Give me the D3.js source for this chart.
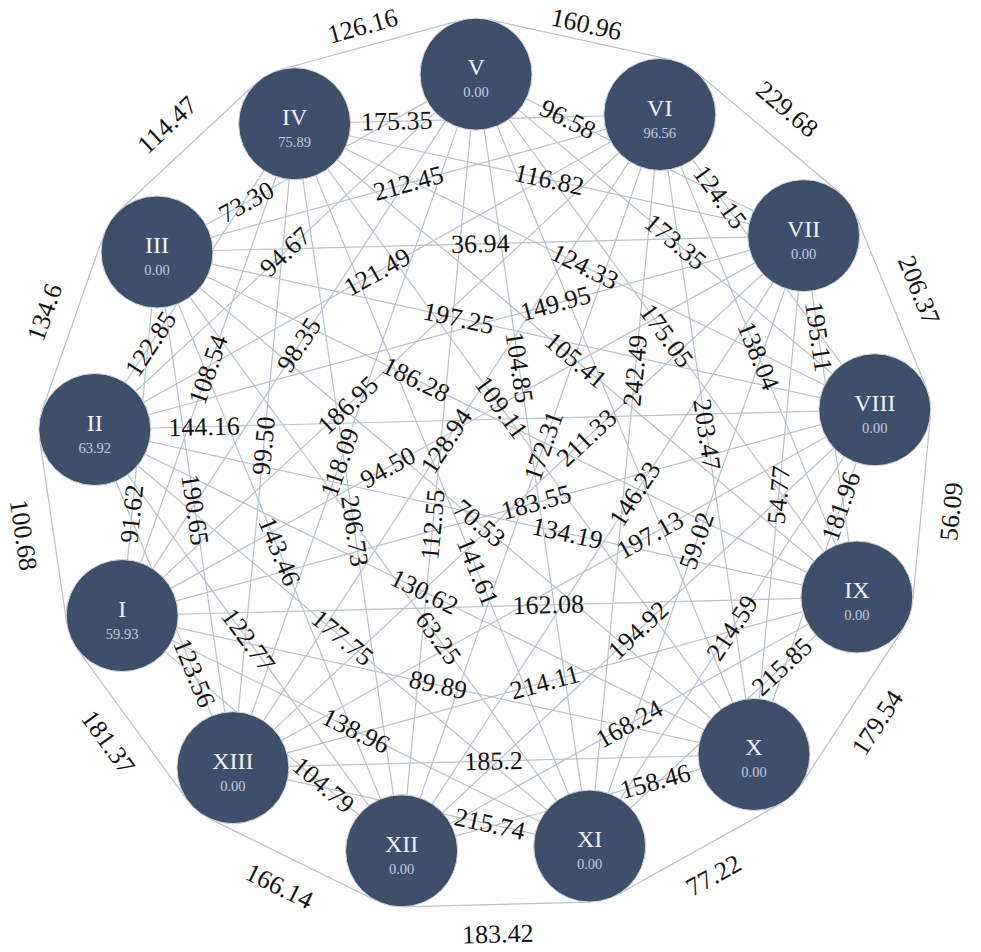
<!DOCTYPE html>
<html>
<head>
<meta charset="utf-8">
<script src="https://cdn.jsdelivr.net/npm/d3@7"></script>
<style>
html, body { margin: 0; padding: 0; background: #ffffff; }
svg { display: block; }
</style>
</head>
<body>
<svg id="chart" width="981" height="952"></svg>
<script>
// ---------------- DATA ----------------
const nodeNames  = ["I","II","III","IV","V","VI","VII","VIII","IX","X","XI","XII","XIII"];
const nodeValues = [59.93, 63.92, 0, 75.89, 0, 96.56, 0, 0, 0, 0, 0, 0, 0];

// links between neighbours on the ring
const span1Links = [
  ["IV","V","126.16"], ["V","VI","160.96"], ["VI","VII","229.68"], ["VII","VIII","206.37"],
  ["VIII","IX","56.09"], ["IX","X","179.54"], ["X","XI","77.22"], ["XI","XII","183.42"],
  ["XII","XIII","166.14"], ["XIII","I","181.37"], ["I","II","100.68"], ["II","III","134.6"],
  ["III","IV","114.47"]
];
const span2Links = [
  ["I","III","91.62"], ["II","IV","122.85"], ["III","V","73.30"], ["IV","VI","175.35"],
  ["V","VII","96.58"], ["VI","VIII","124.15"], ["VII","IX","195.11"], ["VIII","X","181.96"],
  ["IX","XI","215.85"], ["X","XII","158.46"], ["XI","XIII","215.74"], ["XII","I","104.79"],
  ["XIII","II","123.56"]
];
const span3Links = [
  ["I","IV","108.54"], ["II","V","94.67"], ["III","VI","212.45"], ["IV","VII","116.82"],
  ["V","VIII","173.35"], ["VI","IX","138.04"], ["VII","X","54.77"], ["VIII","XI","214.59"],
  ["IX","XII","168.24"], ["X","XIII","185.2"], ["XI","I","138.96"], ["XII","II","122.77"],
  ["XIII","III","190.65"]
];
const span4Links = [
  ["I","V","98.35"], ["II","VI","121.49"], ["III","VII","36.94"], ["IV","VIII","124.33"],
  ["V","IX","175.05"], ["VI","X","203.47"], ["VII","XI","59.02"], ["VIII","XII","194.92"],
  ["IX","XIII","214.11"], ["X","I","89.89"], ["XI","II","177.75"], ["XII","III","143.46"],
  ["XIII","IV","99.50"]
];
const span5Links = [
  ["I","VI","186.95"], ["II","VII","149.95"], ["III","VIII","197.25"], ["IV","IX","105.41"],
  ["V","X",null], ["VI","XI","242.49"], ["VII","XII","146.23"], ["VIII","XIII","197.13"],
  ["IX","I","162.08"], ["X","II","130.62"], ["XI","III","63.25"], ["XII","IV","206.73"],
  ["XIII","V","118.09"]
];
const span6Links = [
  ["I","VII","94.50"], ["II","VIII","144.16"], ["III","IX","186.28"], ["IV","X","109.11"],
  ["V","XI","104.85"], ["VI","XII","172.31"], ["VII","XIII","211.33"], ["VIII","I","183.55"],
  ["IX","II","134.19"], ["X","III","70.53"], ["XI","IV","141.61"], ["XII","V","112.55"],
  ["XIII","VI","128.94"]
];

// ---------------- LAYOUT ----------------
const W = 981, H = 952;
const cx = 486, cy = 467, R = 393, r = 56;
const theta0 = -1.45;             // node V sits at the top
const topIndex = nodeNames.indexOf("V");
const angleScale = d3.scaleLinear()
  .domain([topIndex, topIndex + nodeNames.length])
  .range([theta0, theta0 + 360]);
function nodePos(i) {
  const a = angleScale(i) * Math.PI / 180;
  return [cx + R * Math.sin(a), cy - R * Math.cos(a)];
}
const idx = name => nodeNames.indexOf(name);
const nodes = nodeNames.map((n, i) => {
  const [x, y] = nodePos(i);
  return { name: n, value: nodeValues[i], x, y };
});

const FONT = "'Times New Roman', 'Liberation Serif', serif";
const svg = d3.select("#chart");
const gLines = svg.append("g");
const gLabels = svg.append("g");
const gNodes = svg.append("g");

function normAngle(a) {
  while (a > 90) a -= 180;
  while (a <= -90) a += 180;
  return a;
}

const links = [].concat(span1Links, span2Links, span3Links, span4Links, span5Links, span6Links)
  .map(([s, t, v]) => {
    const a = nodes[idx(s)], b = nodes[idx(t)];
    let d = Math.abs(idx(s) - idx(t));
    const span = Math.min(d, nodeNames.length - d);
    const L = Math.hypot(b.x - a.x, b.y - a.y);
    const o = { s, t, v, span, L,
      ang: normAngle(Math.atan2(b.y - a.y, b.x - a.x) * 180 / Math.PI) };
    if (span === 1) {
      const mx = (a.x + b.x) / 2, my = (a.y + b.y) / 2;
      const nl = Math.hypot(mx - cx, my - cy);
      const nx = (mx - cx) / nl, ny = (my - cy) / nl;
      o.ax = a.x + r * nx; o.ay = a.y + r * ny;
      o.bx = b.x + r * nx; o.by = b.y + r * ny;
      o.lx = mx + (r + 30) * nx; o.ly = my + (r + 30) * ny;
    } else {
      o.ax = a.x; o.ay = a.y; o.bx = b.x; o.by = b.y;
      o.tpos = 0.5;
    }
    return o;
  });

// edges
gLines.selectAll("line").data(links).join("line")
  .attr("x1", d => d.ax).attr("y1", d => d.ay)
  .attr("x2", d => d.bx).attr("y2", d => d.by)
  .attr("stroke", "#b9c1cc").attr("stroke-width", 1.2);

// labels
const labeled = links.filter(d => d.v);
const labelSel = gLabels.selectAll("text").data(labeled).join("text")
  .attr("font-family", FONT).attr("font-size", 26).attr("fill", "#141414")
  .attr("text-anchor", "middle").attr("dominant-baseline", "central")
  .text(d => d.v);
labelSel.each(function (d) { d.w = this.getComputedTextLength(); });

// keep ring labels fully inside the picture
labeled.filter(d => d.span === 1).forEach(d => {
  const a = d.ang * Math.PI / 180;
  const ey = Math.abs(Math.sin(a)) * d.w / 2 + Math.abs(Math.cos(a)) * 11;
  const ex = Math.abs(Math.cos(a)) * d.w / 2 + Math.abs(Math.sin(a)) * 11;
  const m = 6;
  d.ly = Math.max(ey + m, Math.min(H - ey - m, d.ly));
  d.lx = Math.max(ex + m, Math.min(W - ex - m, d.lx));
});

// ---- automatic placement of inner labels along their edges ----
function ptSeg(px, py, x1, y1, x2, y2) {
  const dx = x2 - x1, dy = y2 - y1;
  const l2 = dx * dx + dy * dy;
  let t = l2 ? ((px - x1) * dx + (py - y1) * dy) / l2 : 0;
  t = Math.max(0, Math.min(1, t));
  const qx = x1 + t * dx - px, qy = y1 + t * dy - py;
  return Math.sqrt(qx * qx + qy * qy);
}
function orient(ax, ay, bx, by, px, py) { return (bx - ax) * (py - ay) - (by - ay) * (px - ax); }
function segSeg(s, q) {
  const o1 = orient(s[0], s[1], s[2], s[3], q[0], q[1]);
  const o2 = orient(s[0], s[1], s[2], s[3], q[2], q[3]);
  const o3 = orient(q[0], q[1], q[2], q[3], s[0], s[1]);
  const o4 = orient(q[0], q[1], q[2], q[3], s[2], s[3]);
  if (o1 * o2 < 0 && o3 * o4 < 0) return 0;
  return Math.min(
    ptSeg(q[0], q[1], s[0], s[1], s[2], s[3]), ptSeg(q[2], q[3], s[0], s[1], s[2], s[3]),
    ptSeg(s[0], s[1], q[0], q[1], q[2], q[3]), ptSeg(s[2], s[3], q[0], q[1], q[2], q[3]));
}
function segAt(d, t) {
  const a = d.ang * Math.PI / 180;
  const ex = Math.cos(a), ey = Math.sin(a);
  let px, py;
  if (d.span === 1) { px = d.lx; py = d.ly; }
  else { px = d.ax + t * (d.bx - d.ax); py = d.ay + t * (d.by - d.ay); }
  const h = d.w / 2 - 1;
  return [px - h * ex, py - h * ey, px + h * ex, py + h * ey];
}
const outerL = labeled.filter(d => d.span === 1);
const innerL = labeled.filter(d => d.span > 1);
outerL.forEach(d => d.seg = segAt(d, 0));
innerL.forEach(d => d.seg = segAt(d, d.tpos));
const TH = 20, NODEGAP = r + 12;
function cost(d, seg, t) {
  let c = 400 * (t - 0.5) * (t - 0.5);
  for (const o of labeled) {
    if (o === d) continue;
    const dd = segSeg(seg, o.seg);
    if (dd < TH) c += 60 * (TH - dd) * (TH - dd);
  }
  for (const n of nodes) {
    const dd = ptSeg(n.x, n.y, seg[0], seg[1], seg[2], seg[3]);
    if (dd < NODEGAP) c += 60 * (NODEGAP - dd) * (NODEGAP - dd);
  }
  if (Math.min(seg[0], seg[2]) < 8 || Math.max(seg[0], seg[2]) > W - 8) c += 1e5;
  return c;
}
for (let sweep = 0; sweep < 30; sweep++) {
  let changed = 0;
  for (const d of innerL) {
    let best = d.tpos, bestC = cost(d, d.seg, d.tpos);
    for (let t = 0.06; t <= 0.94001; t += 0.01) {
      const s = segAt(d, t);
      const c = cost(d, s, t);
      if (c < bestC - 1e-6) { bestC = c; best = t; }
    }
    if (Math.abs(best - d.tpos) > 1e-9) { changed++; d.tpos = best; d.seg = segAt(d, best); }
  }
  if (!changed) break;
}

labelSel.attr("transform", d => {
  const x = (d.seg[0] + d.seg[2]) / 2, y = (d.seg[1] + d.seg[3]) / 2;
  return `translate(${x},${y}) rotate(${d.ang})`;
});

// nodes
const fmt = d3.format(".2f");
const ng = gNodes.selectAll("g").data(nodes).join("g")
  .attr("transform", d => `translate(${d.x},${d.y})`);
ng.append("circle").attr("r", r)
  .attr("fill", "#3e4f6b").attr("stroke", "#d3d9e1").attr("stroke-width", 1);
ng.append("text").attr("y", 1)
  .attr("text-anchor", "middle").attr("font-family", FONT).attr("font-size", 24)
  .attr("fill", "#eef1f6").text(d => d.name);
ng.append("text").attr("y", 23)
  .attr("text-anchor", "middle").attr("font-family", FONT).attr("font-size", 14.5)
  .attr("fill", "#c3cddb").text(d => fmt(d.value));
</script>
</body>
</html>
